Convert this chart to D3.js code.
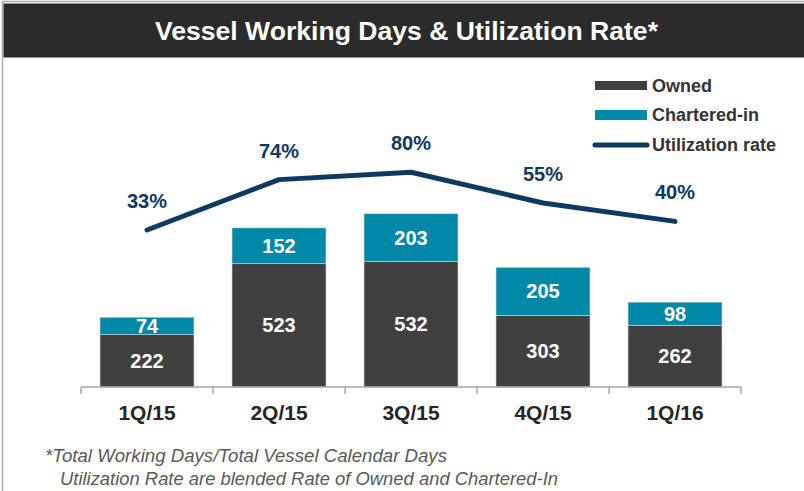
<!doctype html>
<html lang="en">
<head>
<meta charset="utf-8">
<title>Vessel Working Days & Utilization Rate</title>
<script src="https://cdn.jsdelivr.net/npm/d3@7/dist/d3.min.js"></script>
<style>
  body { margin: 0; background: #ffffff; }
  svg { display: block; font-family: "Liberation Sans", Arial, sans-serif; }
</style>
</head>
<body>
<script>

// chart data
var quarters = ["1Q/15", "2Q/15", "3Q/15", "4Q/15", "1Q/16"];
var owned = [222, 523, 532, 303, 262];
var chartered = [74, 152, 203, 205, 98];
var utilization = [33, 74, 80, 55, 40];

var legendLabels = ["Owned", "Chartered-in", "Utilization rate"];
var footnotes = ["*Total Working Days/Total Vessel Calendar Days",
                 "Utilization Rate are blended Rate of Owned and Chartered-In"];

var width = 804;
var height = 491;

var colOwned = "#404040";
var colCharter = "#0088a9";
var colLine = "#0c3a60";

var svg = d3.select("body").append("svg")
    .attr("width", width)
    .attr("height", height);

// frame + title bar
svg.append("rect")
    .attr("x", 2.5).attr("y", 1.5)
    .attr("width", width + 10).attr("height", height + 10)
    .attr("fill", "none")
    .attr("stroke", "#a9a9a9")
    .attr("stroke-width", 1.5);

svg.append("rect")
    .attr("x", 3.5).attr("y", 3.5)
    .attr("width", width).attr("height", 54)
    .attr("fill", "#2b2b2b");

svg.append("text")
    .attr("x", 155).attr("y", 40)
    .attr("fill", "#ffffff")
    .attr("font-size", 26)
    .attr("font-weight", "bold")
    .attr("textLength", 503)
    .attr("lengthAdjust", "spacingAndGlyphs")
    .text("Vessel Working Days & Utilization Rate*");

// scales
var x = d3.scaleBand()
    .domain(quarters)
    .range([81, 741])
    .paddingInner(0.288)
    .paddingOuter(0.144);

var y = d3.scaleLinear().domain([0, 1400]).range([387, 57]);
var yRate = d3.scaleLinear().domain([0, 100]).range([270.5, 147.7]);

var rows = quarters.map(function(q, i) {
    return { q: q, owned: owned[i], chartered: chartered[i], rate: utilization[i] };
});

var stack = d3.stack().keys(["owned", "chartered"])(rows);
var colours = { owned: colOwned, chartered: colCharter };

// bars
var layers = svg.selectAll("g.layer")
    .data(stack)
    .enter().append("g")
    .attr("class", "layer")
    .attr("fill", function(d) { return colours[d.key]; });

layers.selectAll("rect")
    .data(function(d) { return d; })
    .enter().append("rect")
    .attr("x", function(d) { return x(d.data.q); })
    .attr("y", function(d) { return y(d[1]); })
    .attr("width", x.bandwidth())
    .attr("height", function(d) { return y(d[0]) - y(d[1]); })
    .attr("stroke", "#d9d9d9")
    .attr("stroke-width", 0.6);

layers.selectAll("text")
    .data(function(d) { return d; })
    .enter().append("text")
    .attr("x", function(d) { return x(d.data.q) + x.bandwidth() / 2; })
    .attr("y", function(d) { return (y(d[0]) + y(d[1])) / 2 + 7; })
    .attr("text-anchor", "middle")
    .attr("fill", "#ffffff")
    .attr("font-size", 20)
    .attr("font-weight", "bold")
    .text(function(d) { return d[1] - d[0]; });

// x axis: baseline, boundary ticks, labels
var axis = svg.append("g").attr("transform", "translate(0,387)");

axis.call(d3.axisBottom(x).tickSize(0).tickPadding(20))
    .call(function(g) { g.select(".domain").remove(); })
    .selectAll("text")
    .attr("font-family", "Liberation Sans, Arial, sans-serif")
    .attr("font-size", 21)
    .attr("font-weight", "bold")
    .attr("fill", "#262626")
    .attr("dy", "0.62em");

var half = x.step() * x.paddingInner() / 2;
var edges = quarters.map(function(q) { return x(q) - half; });
edges.push(x(quarters[quarters.length - 1]) + x.bandwidth() + half);

axis.append("line")
    .attr("x1", edges[0]).attr("x2", edges[edges.length - 1])
    .attr("stroke", "#a6a6a6").attr("stroke-width", 1.5);

axis.selectAll("line.edge")
    .data(edges)
    .enter().append("line")
    .attr("class", "edge")
    .attr("x1", function(d) { return d; })
    .attr("x2", function(d) { return d; })
    .attr("y1", 0).attr("y2", 7)
    .attr("stroke", "#a6a6a6").attr("stroke-width", 1.5);

// utilization line
var line = d3.line()
    .x(function(d) { return x(d.q) + x.bandwidth() / 2; })
    .y(function(d) { return yRate(d.rate); });

svg.append("path")
    .datum(rows)
    .attr("d", line)
    .attr("fill", "none")
    .attr("stroke", colLine)
    .attr("stroke-width", 5)
    .attr("stroke-linecap", "round")
    .attr("stroke-linejoin", "round");

svg.selectAll("text.rate")
    .data(rows)
    .enter().append("text")
    .attr("class", "rate")
    .attr("x", function(d) { return x(d.q) + x.bandwidth() / 2; })
    .attr("y", function(d) { return yRate(d.rate) - 22; })
    .attr("text-anchor", "middle")
    .attr("fill", colLine)
    .attr("font-size", 20)
    .attr("font-weight", "bold")
    .text(function(d) { return d.rate + "%"; });

// legend
var legend = svg.append("g").attr("transform", "translate(595,0)");
var legY = [85.5, 115, 145];

legend.append("rect")
    .attr("x", 0).attr("y", legY[0] - 4.5)
    .attr("width", 52).attr("height", 9)
    .attr("fill", colOwned);

legend.append("rect")
    .attr("x", 0).attr("y", legY[1] - 5)
    .attr("width", 52).attr("height", 10)
    .attr("fill", colCharter);

legend.append("line")
    .attr("x1", 0).attr("x2", 52)
    .attr("y1", legY[2]).attr("y2", legY[2])
    .attr("stroke", colLine)
    .attr("stroke-width", 5)
    .attr("stroke-linecap", "round");

legend.selectAll("text")
    .data(legendLabels)
    .enter().append("text")
    .attr("x", 57)
    .attr("y", function(d, i) { return legY[i] + 6; })
    .attr("fill", "#333333")
    .attr("font-size", 18)
    .attr("font-weight", "bold")
    .text(function(d) { return d; });

// footnote
var noteX = [45, 60];
var noteW = [402, 498];

svg.selectAll("text.note")
    .data(footnotes)
    .enter().append("text")
    .attr("class", "note")
    .attr("x", function(d, i) { return noteX[i]; })
    .attr("y", function(d, i) { return i === 0 ? 462 : 485; })
    .attr("fill", "#595959")
    .attr("font-size", 18)
    .attr("font-style", "italic")
    .attr("textLength", function(d, i) { return noteW[i]; })
    .attr("lengthAdjust", "spacingAndGlyphs")
    .text(function(d) { return d; });

</script>
</body>
</html>
